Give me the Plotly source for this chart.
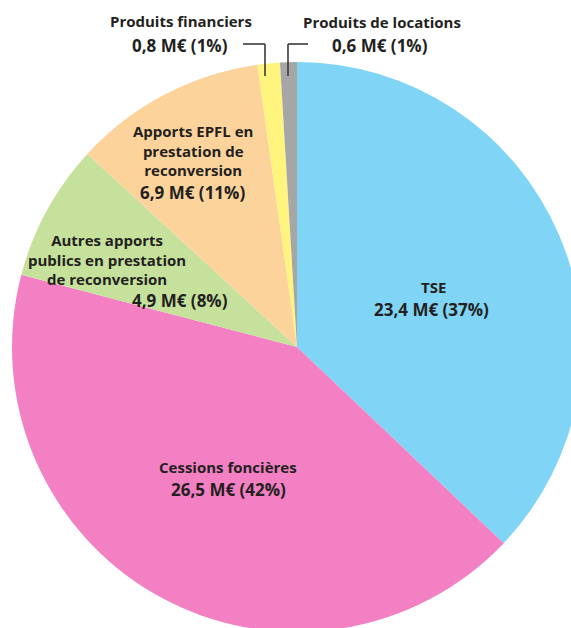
import plotly.graph_objects as go

# data (M€)
labels = ["TSE", "Cessions foncières", "Autres apports publics en prestation de reconversion",
          "Apports EPFL en prestation de reconversion", "Produits financiers", "Produits de locations"]
values = [23.4, 26.5, 4.9, 6.9, 0.8, 0.6]
shares = ["37%", "42%", "8%", "11%", "1%", "1%"]
colors = ["#80d5f6", "#f480c4", "#c6e19c", "#fdd39c", "#fff57e", "#a6a6a6"]

W, H = 590, 640
ink = "#231f20"


def fx(px):
    return px / W


def fy(py):
    return 1 - py / H


def val(i):
    return f"{values[i]:.1f}".replace(".", ",") + " M€ (" + shares[i] + ")"


fig = go.Figure(go.Pie(
    labels=labels, values=values, sort=False, direction="clockwise", rotation=0,
    marker=dict(colors=colors, line=dict(width=0)),
    textinfo="none", hoverinfo="label+value", showlegend=False,
    domain=dict(x=[fx(12), fx(582)], y=[fy(632), fy(62)]),
))

label_font = dict(family="Open Sans, sans-serif", size=15, color=ink, weight="bold")
value_font = dict(family="Open Sans, sans-serif", size=17, color=ink, weight="bold")


def ann(text, px, py, font=label_font):
    fig.add_annotation(text=text, x=fx(px), y=fy(py), xref="paper", yref="paper",
                       showarrow=False, font=font, align="center", xanchor="center", yanchor="middle")


ann("TSE", 434, 287)
ann(val(0), 431, 309, value_font)
ann("Cessions foncières", 228, 467)
ann(val(1), 228, 489, value_font)
ann("Autres apports<br>publics en prestation<br>de reconversion", 107, 259)
ann(val(2), 180, 300, value_font)
ann("Apports EPFL en<br>prestation de<br>reconversion", 193, 150)
ann(val(3), 192, 192, value_font)
ann("Produits financiers", 181, 21)
ann(val(4), 180, 45, value_font)
ann("Produits de locations", 382, 22)
ann(val(5), 380, 45, value_font)

# leader lines for the two thin slices
for path in [[(243, 44), (265, 44), (265, 76)], [(308, 44), (288, 44), (288, 76)]]:
    for (x0, y0), (x1, y1) in zip(path[:-1], path[1:]):
        fig.add_shape(type="line", xref="paper", yref="paper",
                      x0=fx(x0), y0=fy(y0), x1=fx(x1), y1=fy(y1),
                      line=dict(color="#3a3a3a", width=1.6))

fig.update_layout(width=W, height=H, margin=dict(l=0, r=0, t=0, b=0),
                  paper_bgcolor="white", plot_bgcolor="white")

# page has no body margin and the pie runs past the window edge like the original
fig.write_html("out.html", config={"displayModeBar": False},
               post_script="document.body.style.margin='0';document.body.style.overflow='hidden';")
